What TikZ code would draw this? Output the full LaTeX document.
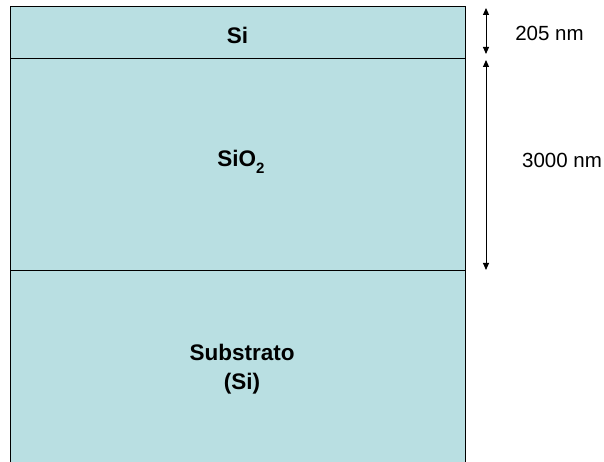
\documentclass[tikz,border=0pt]{standalone}
\usepackage{fontspec}
\setmainfont{Liberation Sans}
\usetikzlibrary{arrows.meta}
\definecolor{layerfill}{RGB}{185,223,226}
\tikzset{
  layerlabel/.style={font=\fontsize{22.5}{29}\selectfont\bfseries, align=center, inner sep=0pt},
  dimlabel/.style={font=\fontsize{20.5}{24}\selectfont, inner sep=0pt},
  dimarrow/.style={line width=1pt, {Triangle[length=7pt,width=6pt]}-{Triangle[length=7pt,width=6pt]}},
  layerline/.style={line width=1pt, draw=black}
}
\begin{document}
\begin{tikzpicture}[x=1pt,y=1pt]
\useasboundingbox (0,0) rectangle (604,462);
\clip (0,0) rectangle (604,462);
% layers
\fill[layerfill] (10,-10) rectangle (465,455);
\draw[layerline] (10,-10) -- (10,455) -- (465,455) -- (465,-10);
\draw[layerline] (10,403) -- (465,403);
\draw[layerline] (10,191) -- (465,191);
% labels
\node[layerlabel] (si) at (237.5,427) {Si};
\node[layerlabel] (sio2) at (241,300) {SiO\raisebox{-0.3em}{\fontsize{15}{15}\selectfont 2}};
\node[layerlabel] (sub) at (242,93) {Substrato\\(Si)};
% dimension arrows
\coordinate (a1t) at (486,454);
\coordinate (a1b) at (486,408);
\coordinate (a2t) at (486,402);
\coordinate (a2b) at (486,192);
\draw[dimarrow] (a1t) -- (a1b);
\draw[dimarrow] (a2t) -- (a2b);
\node[dimlabel] (d1) at (549.5,429) {205 nm};
\node[dimlabel] (d2) at (562,302) {3000 nm};
\end{tikzpicture}
\end{document}
